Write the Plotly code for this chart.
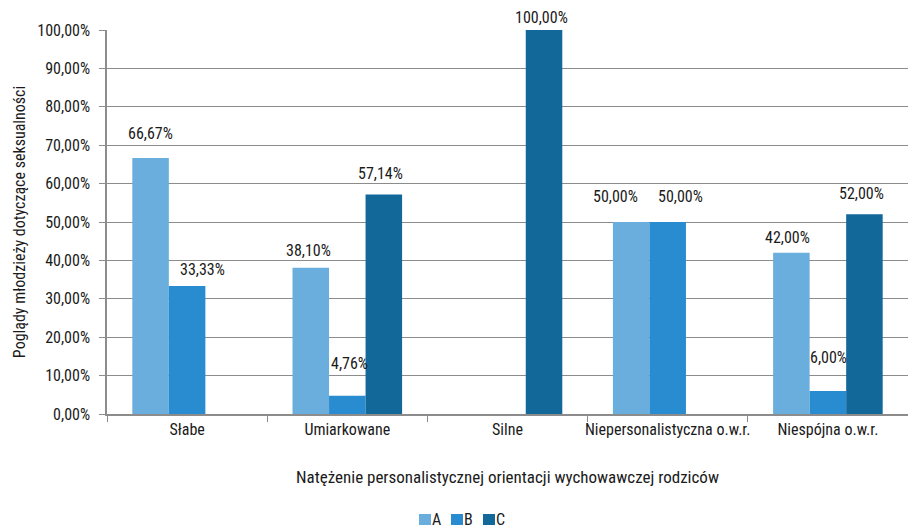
import plotly.graph_objects as go

categories = ["Słabe", "Umiarkowane", "Silne", "Niepersonalistyczna o.w.r.", "Niespójna o.w.r."]
series_names = ["A", "B", "C"]
values_a = [66.67, 38.10, None, 50.00, 42.00]
values_b = [33.33, 4.76, None, 50.00, 6.00]
values_c = [None, 57.14, 100.00, None, 52.00]
colors = ["#6aaedd", "#2a8cd0", "#13689a"]

# label nudges (dx, gap above the bar top) in pixels, per series and category
label_dx = [[0, -2, 0, -16, -4], [15, 2, 0, 13, 1], [0, -3, -3, 0, -3]]
label_gap = [[17, 10, 0, 18, 8], [9, 25, 0, 18, 26], [0, 14, 5, 0, 13]]

FONT = "Roboto Condensed, sans-serif"
INK = "#1a1a1a"
AXIS_GREY = "#8c8c8c"

W, H = 908, 529
M_L, M_R, M_T, M_B = 107, 0, 30, 115
BARGAP = 0.316
PLOT_W = W - M_L - M_R
PLOT_H = H - M_T - M_B


def fmt(v):
    return f"{v:.2f}".replace(".", ",") + "%"


def px_to_paper_x(px):
    return (px - M_L) / PLOT_W


def px_to_paper_y(py):
    return (H - M_B - py) / PLOT_H


all_values = [values_a, values_b, values_c]

fig = go.Figure()
for name, vals, col in zip(series_names, all_values, colors):
    fig.add_trace(go.Bar(
        name=name, x=categories, y=vals, marker=dict(color=col, line=dict(width=0)),
        showlegend=False,
    ))

# value labels above each bar, shifted into the bar's slot within the group
cat_px = PLOT_W / len(categories)
bar_px = cat_px * (1 - BARGAP) / len(series_names)
for si, vals in enumerate(all_values):
    for ci, v in enumerate(vals):
        if v is None:
            continue
        fig.add_annotation(
            x=categories[ci], y=v, xref="x", yref="y", showarrow=False,
            text=fmt(v), xanchor="center", yanchor="bottom",
            xshift=(si - 1) * bar_px + label_dx[si][ci], yshift=label_gap[si][ci] - 4,
            font=dict(family=FONT, size=16, color=INK),
        )

# compact legend row centred under the axis title
LEG_Y = 520          # centre line of the legend row, px from top
LEG_X0 = 419         # left edge of the first swatch
LEG_STEP = 32        # distance between consecutive swatches
SW = 12              # swatch size
for i, (name, col) in enumerate(zip(series_names, colors)):
    x0 = LEG_X0 + i * LEG_STEP
    fig.add_shape(
        type="rect", xref="paper", yref="paper", line=dict(width=0), fillcolor=col,
        x0=px_to_paper_x(x0), x1=px_to_paper_x(x0 + SW),
        y0=px_to_paper_y(LEG_Y + 5), y1=px_to_paper_y(LEG_Y - 6),
    )
    fig.add_annotation(
        xref="paper", yref="paper", showarrow=False, xanchor="left", yanchor="middle",
        x=px_to_paper_x(x0 + SW), y=px_to_paper_y(LEG_Y - 1), text=name,
        font=dict(family=FONT, size=16, color=INK), borderpad=0,
    )

fig.update_layout(
    width=W, height=H,
    margin=dict(l=M_L, r=M_R, t=M_T, b=M_B, autoexpand=False),
    paper_bgcolor="white", plot_bgcolor="white",
    barmode="group", bargap=BARGAP, bargroupgap=0,
    separators=", ",
    font=dict(family=FONT, size=16, color=INK),
    showlegend=False,
    xaxis=dict(
        type="category", showgrid=False, showline=True, linecolor=AXIS_GREY, linewidth=1.5,
        ticks="outside", tickson="boundaries", ticklen=6, tickcolor=AXIS_GREY,
        tickangle=0, automargin=False,
        tickfont=dict(family=FONT, size=16, color=INK),
        title=dict(text="Natężenie personalistycznej orientacji wychowawczej rodziców",
                   font=dict(family=FONT, size=17, color=INK), standoff=33),
    ),
    yaxis=dict(
        range=[0, 100], dtick=10, tickformat=".2f", ticksuffix="%",
        showgrid=True, gridcolor=AXIS_GREY, gridwidth=1,
        showline=True, linecolor=AXIS_GREY, linewidth=1.5,
        ticks="outside", ticklen=6, tickcolor=AXIS_GREY, ticklabelstandoff=6,
        automargin=False,
        tickfont=dict(family=FONT, size=16, color=INK), zeroline=False,
        title=dict(text="Poglądy młodzieży dotyczące seksualności",
                   font=dict(family=FONT, size=16, color=INK), standoff=8),
    ),
)

fig.write_html("out.html")
